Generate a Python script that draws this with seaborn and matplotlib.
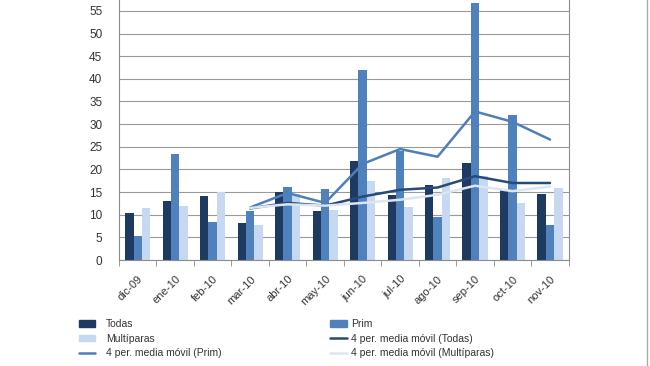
import numpy as np
import pandas as pd
import matplotlib
matplotlib.use("Agg")
import matplotlib.pyplot as plt
import seaborn as sns
from matplotlib.patches import Patch
from matplotlib.lines import Line2D

# data
meses = ['dic-09', 'ene-10', 'feb-10', 'mar-10', 'abr-10', 'may-10',
         'jun-10', 'jul-10', 'ago-10', 'sep-10', 'oct-10', 'nov-10']
todas = [10.3, 13.1, 14.1, 8.1, 15.0, 10.8, 21.9, 14.3, 16.5, 21.5, 15.5, 14.5]
prim = [5.3, 23.5, 8.4, 10.8, 16.2, 15.7, 42.0, 24.0, 9.5, 56.8, 32.1, 7.7]
multiparas = [11.4, 12.0, 15.0, 7.8, 14.5, 11.0, 17.4, 11.6, 18.1, 18.5, 12.5, 16.0]

# 4 period moving averages, from mar-10 on
ma_todas = [11.4, 12.6, 12.0, 14.0, 15.5, 16.0, 18.5, 17.0, 17.0]
ma_prim = [11.6, 14.8, 12.6, 21.2, 24.5, 22.8, 32.8, 30.5, 26.6]
ma_multi = [11.5, 12.3, 12.0, 12.6, 13.3, 14.4, 16.4, 15.2, 16.2]

c_todas = '#1f3a60'
c_prim = '#4f81bd'
c_multi = '#c6d9f1'
c_ma_todas = '#254a7c'
c_ma_prim = '#4f7fb8'
c_ma_multi = '#dce6f2'

df = pd.DataFrame({
    'mes': meses * 3,
    'valor': todas + prim + multiparas,
    'serie': ['Todas'] * 12 + ['Prim'] * 12 + ['Multíparas'] * 12,
})

sns.set_style('white')
plt.rcParams['font.family'] = ['Liberation Sans', 'DejaVu Sans']

fig = plt.figure(figsize=(6.5, 3.66), dpi=100)
ax = fig.add_axes([0.183, 0.2896, 0.692, 0.7104])

sns.barplot(data=df, x='mes', y='valor', hue='serie', order=meses,
            palette=[c_todas, c_prim, c_multi], saturation=1,
            width=0.67, linewidth=0, legend=False, ax=ax, zorder=2)

pos = np.arange(len(meses))[3:]
ax.plot(pos, ma_prim, color=c_ma_prim, lw=1.8, zorder=3)
ax.plot(pos, ma_todas, color=c_ma_todas, lw=1.8, zorder=3)
ax.plot(pos, ma_multi, color=c_ma_multi, lw=1.8, zorder=3)

ax.set_ylim(0, 57.4)
ax.set_xlim(-0.5, len(meses) - 0.5)
ax.set_yticks(range(0, 60, 5))
ax.yaxis.grid(True, color='#999999', lw=0.8)
ax.set_axisbelow(True)
ax.set_xlabel('')
ax.set_ylabel('')

for s in ['left', 'bottom', 'right']:
    ax.spines[s].set_visible(True)
    ax.spines[s].set_color('#8c8c8c')
ax.spines['top'].set_visible(False)

ax.set_xticks(range(len(meses)))
ax.set_xticklabels(meses, rotation=45, ha='right', rotation_mode='anchor',
                   fontsize=8, color='#333333')
ax.set_xticks(np.arange(-0.5, len(meses)), minor=True)
ax.tick_params(axis='x', which='major', length=0, pad=10)
ax.tick_params(axis='x', which='minor', length=4, color='#8c8c8c', bottom=True)
ax.tick_params(axis='y', length=0, labelsize=8.5, labelcolor='#333333', pad=12)

h_left = [Patch(color=c_todas), Patch(color=c_multi),
          Line2D([], [], color=c_ma_prim, lw=1.8)]
l_left = ['Todas', 'Multíparas', '4 per. media móvil (Prim)']
h_right = [Patch(color=c_prim), Line2D([], [], color=c_ma_todas, lw=1.8),
           Line2D([], [], color=c_ma_multi, lw=1.8)]
l_right = ['Prim', '4 per. media móvil (Todas)', '4 per. media móvil (Multíparas)']

kw = dict(frameon=False, fontsize=7.5, handlelength=1.6, handleheight=0.6,
          labelspacing=0.45, borderpad=0, labelcolor='#333333')
fig.legend(h_left, l_left, loc='upper left', bbox_to_anchor=(0.113, 0.143),
           handletextpad=1.0, **kw)
fig.legend(h_right, l_right, loc='upper left', bbox_to_anchor=(0.5, 0.143),
           handletextpad=0.4, **kw)

fig.add_artist(Line2D([0.996, 0.996], [0, 1], color='#aaaaaa', lw=1))

fig.savefig('out.png', dpi=100)
